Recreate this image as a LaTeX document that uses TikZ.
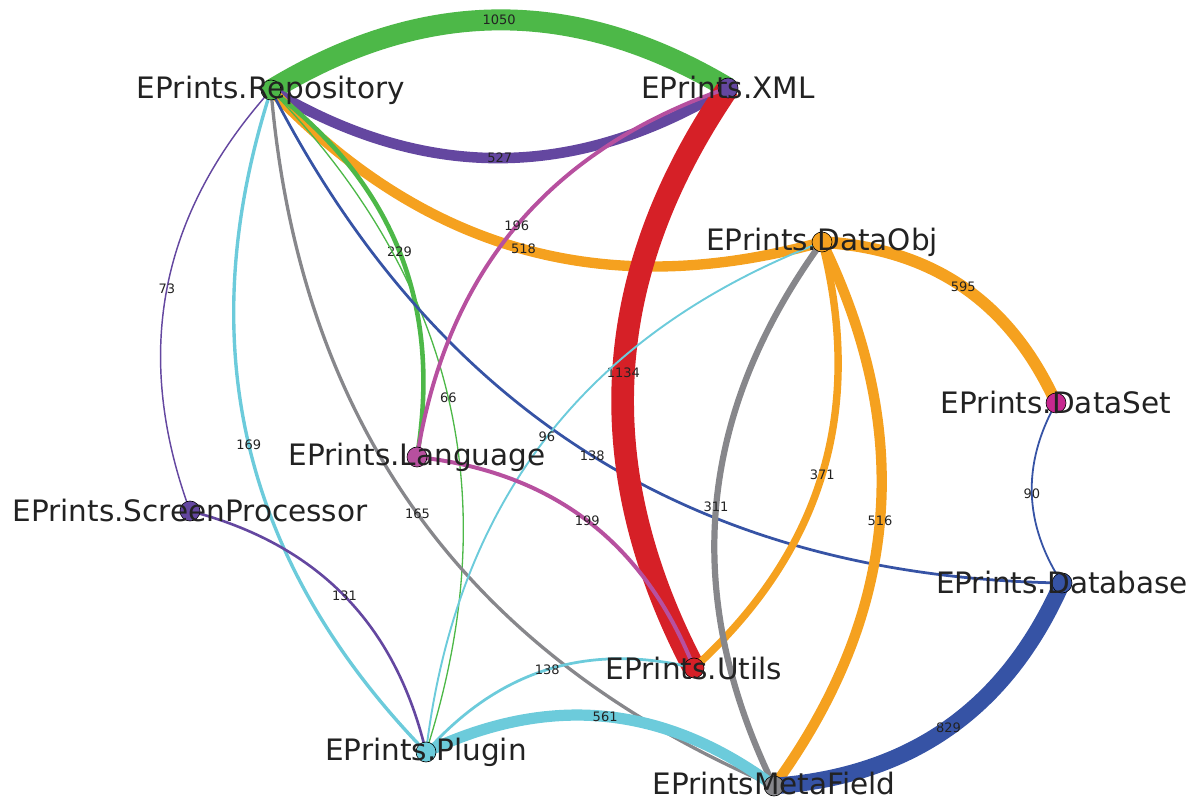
\documentclass[tikz,border=0pt]{standalone}
\usepackage{fontspec}
\setmainfont{DejaVu Sans}
\usetikzlibrary{backgrounds}
\definecolor{cgreen}{HTML}{4DB848}
\definecolor{cpurple}{HTML}{6447A0}
\definecolor{corange}{HTML}{F5A11F}
\definecolor{cmagenta}{HTML}{C6288F}
\definecolor{cpink}{HTML}{B7509F}
\definecolor{cblue}{HTML}{3653A5}
\definecolor{cred}{HTML}{D62027}
\definecolor{ccyan}{HTML}{6CCBDB}
\definecolor{cgray}{HTML}{87878B}
\definecolor{ctext}{HTML}{222222}

\begin{document}
\begin{tikzpicture}[x=1pt,y=1pt,
					vdot/.style={circle,draw=black,line width=0.6pt,inner sep=0pt,minimum size=20pt},
					nlabel/.style={font=\fontsize{29.5}{34}\selectfont,text=ctext,inner sep=0pt},
					lbl/.style={font=\fontsize{13}{15}\selectfont,text=ctext,inner sep=0pt},
					wt/.style={line width={#1/50*1pt}},
					]
					\useasboundingbox (0,0) rectangle (1198,798);
					% modules
					\node [vdot,fill=cgreen,label={[nlabel]center:EPrints.Repository}] (rep) at (271,708) {};
					\node [vdot,fill=cpurple,label={[nlabel]center:EPrints.XML}] (xml) at (728,710) {};
					\node [vdot,fill=corange,label={[nlabel]center:EPrints.DataObj}] (dobj) at (822,556) {};
					\node [vdot,fill=cmagenta,label={[nlabel]center:EPrints.DataSet}] (dset) at (1056,395) {};
					\node [vdot,fill=cpink,label={[nlabel]center:EPrints.Language}] (lang) at (417,341) {};
					\node [vdot,fill=cpurple,label={[nlabel]center:EPrints.ScreenProcessor}] (scr) at (190,287) {};
					\node [vdot,fill=cblue,label={[nlabel]center:EPrints.Database}] (dbase) at (1062,215) {};
					\node [vdot,fill=cred,label={[nlabel]center:EPrints.Utils}] (utils) at (694,130) {};
					\node [vdot,fill=ccyan,label={[nlabel]center:EPrints.Plugin}] (plugin) at (426,46) {};
					\node [vdot,fill=cgray,label={[nlabel,yshift=3pt]center:EPrintsMetaField}] (mfield) at (774,12) {};
					% dependencies
					\begin{scope}[on background layer]
					\draw[cgreen,wt=1050] (rep.center) to[bend left=31] node[lbl]{1050} (xml.center);
					\draw[cpurple,wt=527] (rep.center) to[bend right=31] node[lbl]{527} (xml.center);
					\draw[corange,wt=518] (rep.center) to[bend right=31] node[lbl]{518} (dobj.center);
					\draw[cgreen,wt=229] (rep.center) to[bend left=31] node[lbl]{229} (lang.center);
					\draw[cpurple,wt=73] (rep.center) to[bend right=31] node[lbl]{73} (scr.center);
					\draw[ccyan,wt=169] (rep.center) to[bend right=31] node[lbl]{169} (plugin.center);
					\draw[cgreen,wt=66] (rep.center) to[bend left=31] node[lbl]{66} (plugin.center);
					\draw[cgray,wt=165] (rep.center) to[bend right=31] node[lbl]{165} (mfield.center);
					\draw[cblue,wt=138] (rep.center) to[bend right=31] node[lbl]{138} (dbase.center);
					\draw[cred,wt=1134] (xml.center) to[bend right=31] node[lbl]{1134} (utils.center);
					\draw[cpink,wt=196] (xml.center) to[bend right=31] node[lbl]{196} (lang.center);
					\draw[ccyan,wt=96] (dobj.center) to[bend right=31] node[lbl]{96} (plugin.center);
					\draw[corange,wt=595] (dobj.center) to[bend left=31] node[lbl]{595} (dset.center);
					\draw[corange,wt=371] (dobj.center) to[bend left=31] node[lbl]{371} (utils.center);
					\draw[corange,wt=516] (dobj.center) to[bend left=31] node[lbl]{516} (mfield.center);
					\draw[cgray,wt=311] (dobj.center) to[bend right=31] node[lbl]{311} (mfield.center);
					\draw[cblue,wt=90] (dset.center) to[bend right=31] node[lbl]{90} (dbase.center);
					\draw[cblue,wt=829] (dbase.center) to[bend left=31] node[lbl]{829} (mfield.center);
					\draw[cpink,wt=199] (lang.center) to[bend left=31] node[lbl]{199} (utils.center);
					\draw[cpurple,wt=131] (scr.center) to[bend left=31] node[lbl]{131} (plugin.center);
					\draw[ccyan,wt=138] (plugin.center) to[bend left=31] node[lbl]{138} (utils.center);
					\draw[ccyan,wt=561] (plugin.center) to[bend left=31] node[lbl]{561} (mfield.center);
					\end{scope}
				\end{tikzpicture}
\end{document}
